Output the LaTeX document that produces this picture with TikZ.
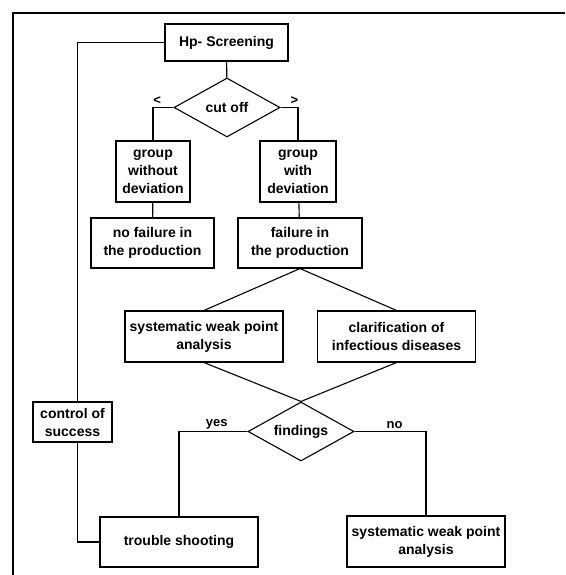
\documentclass[tikz,border=0pt]{standalone}
\usepackage{fontspec}
\setmainfont{Liberation Sans}
\usetikzlibrary{shapes.geometric}

\begin{document}
\begin{tikzpicture}[x=1pt,y=-1pt,line width=1.1pt,
    box/.style={draw,rectangle,inner sep=0pt,align=center,font=\fontsize{14}{18}\selectfont\bfseries},
    decision/.style={draw,diamond,inner sep=0pt,aspect=1.8,minimum width=106,minimum height=59,font=\fontsize{14}{18}\selectfont\bfseries},
    lbl/.style={font=\fontsize{13}{16}\selectfont\bfseries,inner sep=2pt}]
        \useasboundingbox (0,0) rectangle (565,575);
        \draw[line width=1.8pt] (13,575) -- (13,13) -- (565,13);
        \node[box,minimum width=123,minimum height=37] (hp) at (226.5,42.5) {Hp- Screening};
        \node[decision] (cut) at (227,107.5) {cut off};
        \node[box,minimum width=74,minimum height=61] (grpA) at (153,171.5) {group\\without\\deviation};
        \node[box,minimum width=76,minimum height=61] (grpB) at (298,171.5) {group\\with\\deviation};
        \node[box,minimum width=123,minimum height=50] (nofail) at (152.5,243) {no failure in\\the production};
        \node[box,minimum width=124,minimum height=50] (fail) at (300,243) {failure in\\the production};
        \node[box,minimum width=158,minimum height=51] (sys) at (204,336.5) {systematic weak point\\analysis};
        \node[box,minimum width=158,minimum height=51] (clar) at (396.5,336.5) {clarification of\\infectious diseases};
        \node[decision] (find) at (301,431.5) {findings};
        \node[box,minimum width=79,minimum height=40] (ctrl) at (72.5,422) {control of\\success};
        \node[box,minimum width=158,minimum height=50] (trouble) at (179,542) {trouble shooting};
        \node[box,minimum width=158,minimum height=51] (sysB) at (426,541.5) {systematic weak point\\analysis};
        \draw (hp) -- (cut);
        \draw (cut.west) -| node[lbl,pos=0.4,above] {<} (grpA.north);
        \draw (cut.east) -| node[lbl,pos=0.4,above] {>} (grpB.north);
        \draw (grpA) -- (nofail);
        \draw (grpB) -- (fail);
        \draw (fail.south) -- (sys.north);
        \draw (fail.south) -- (clar.north);
        \draw (sys.south) -- (find.north);
        \draw (clar.south) -- (find.north);
        \draw (find.west) -| node[lbl,pos=0.225,above] {yes} (trouble.north);
        \draw (find.east) -| node[lbl,pos=0.28,above] {no} (sysB.north);
        \draw (hp.west) -| ([xshift=5]ctrl.north);
        \draw ([xshift=5]ctrl.south) |- (trouble.west);
    \end{tikzpicture}
\end{document}
